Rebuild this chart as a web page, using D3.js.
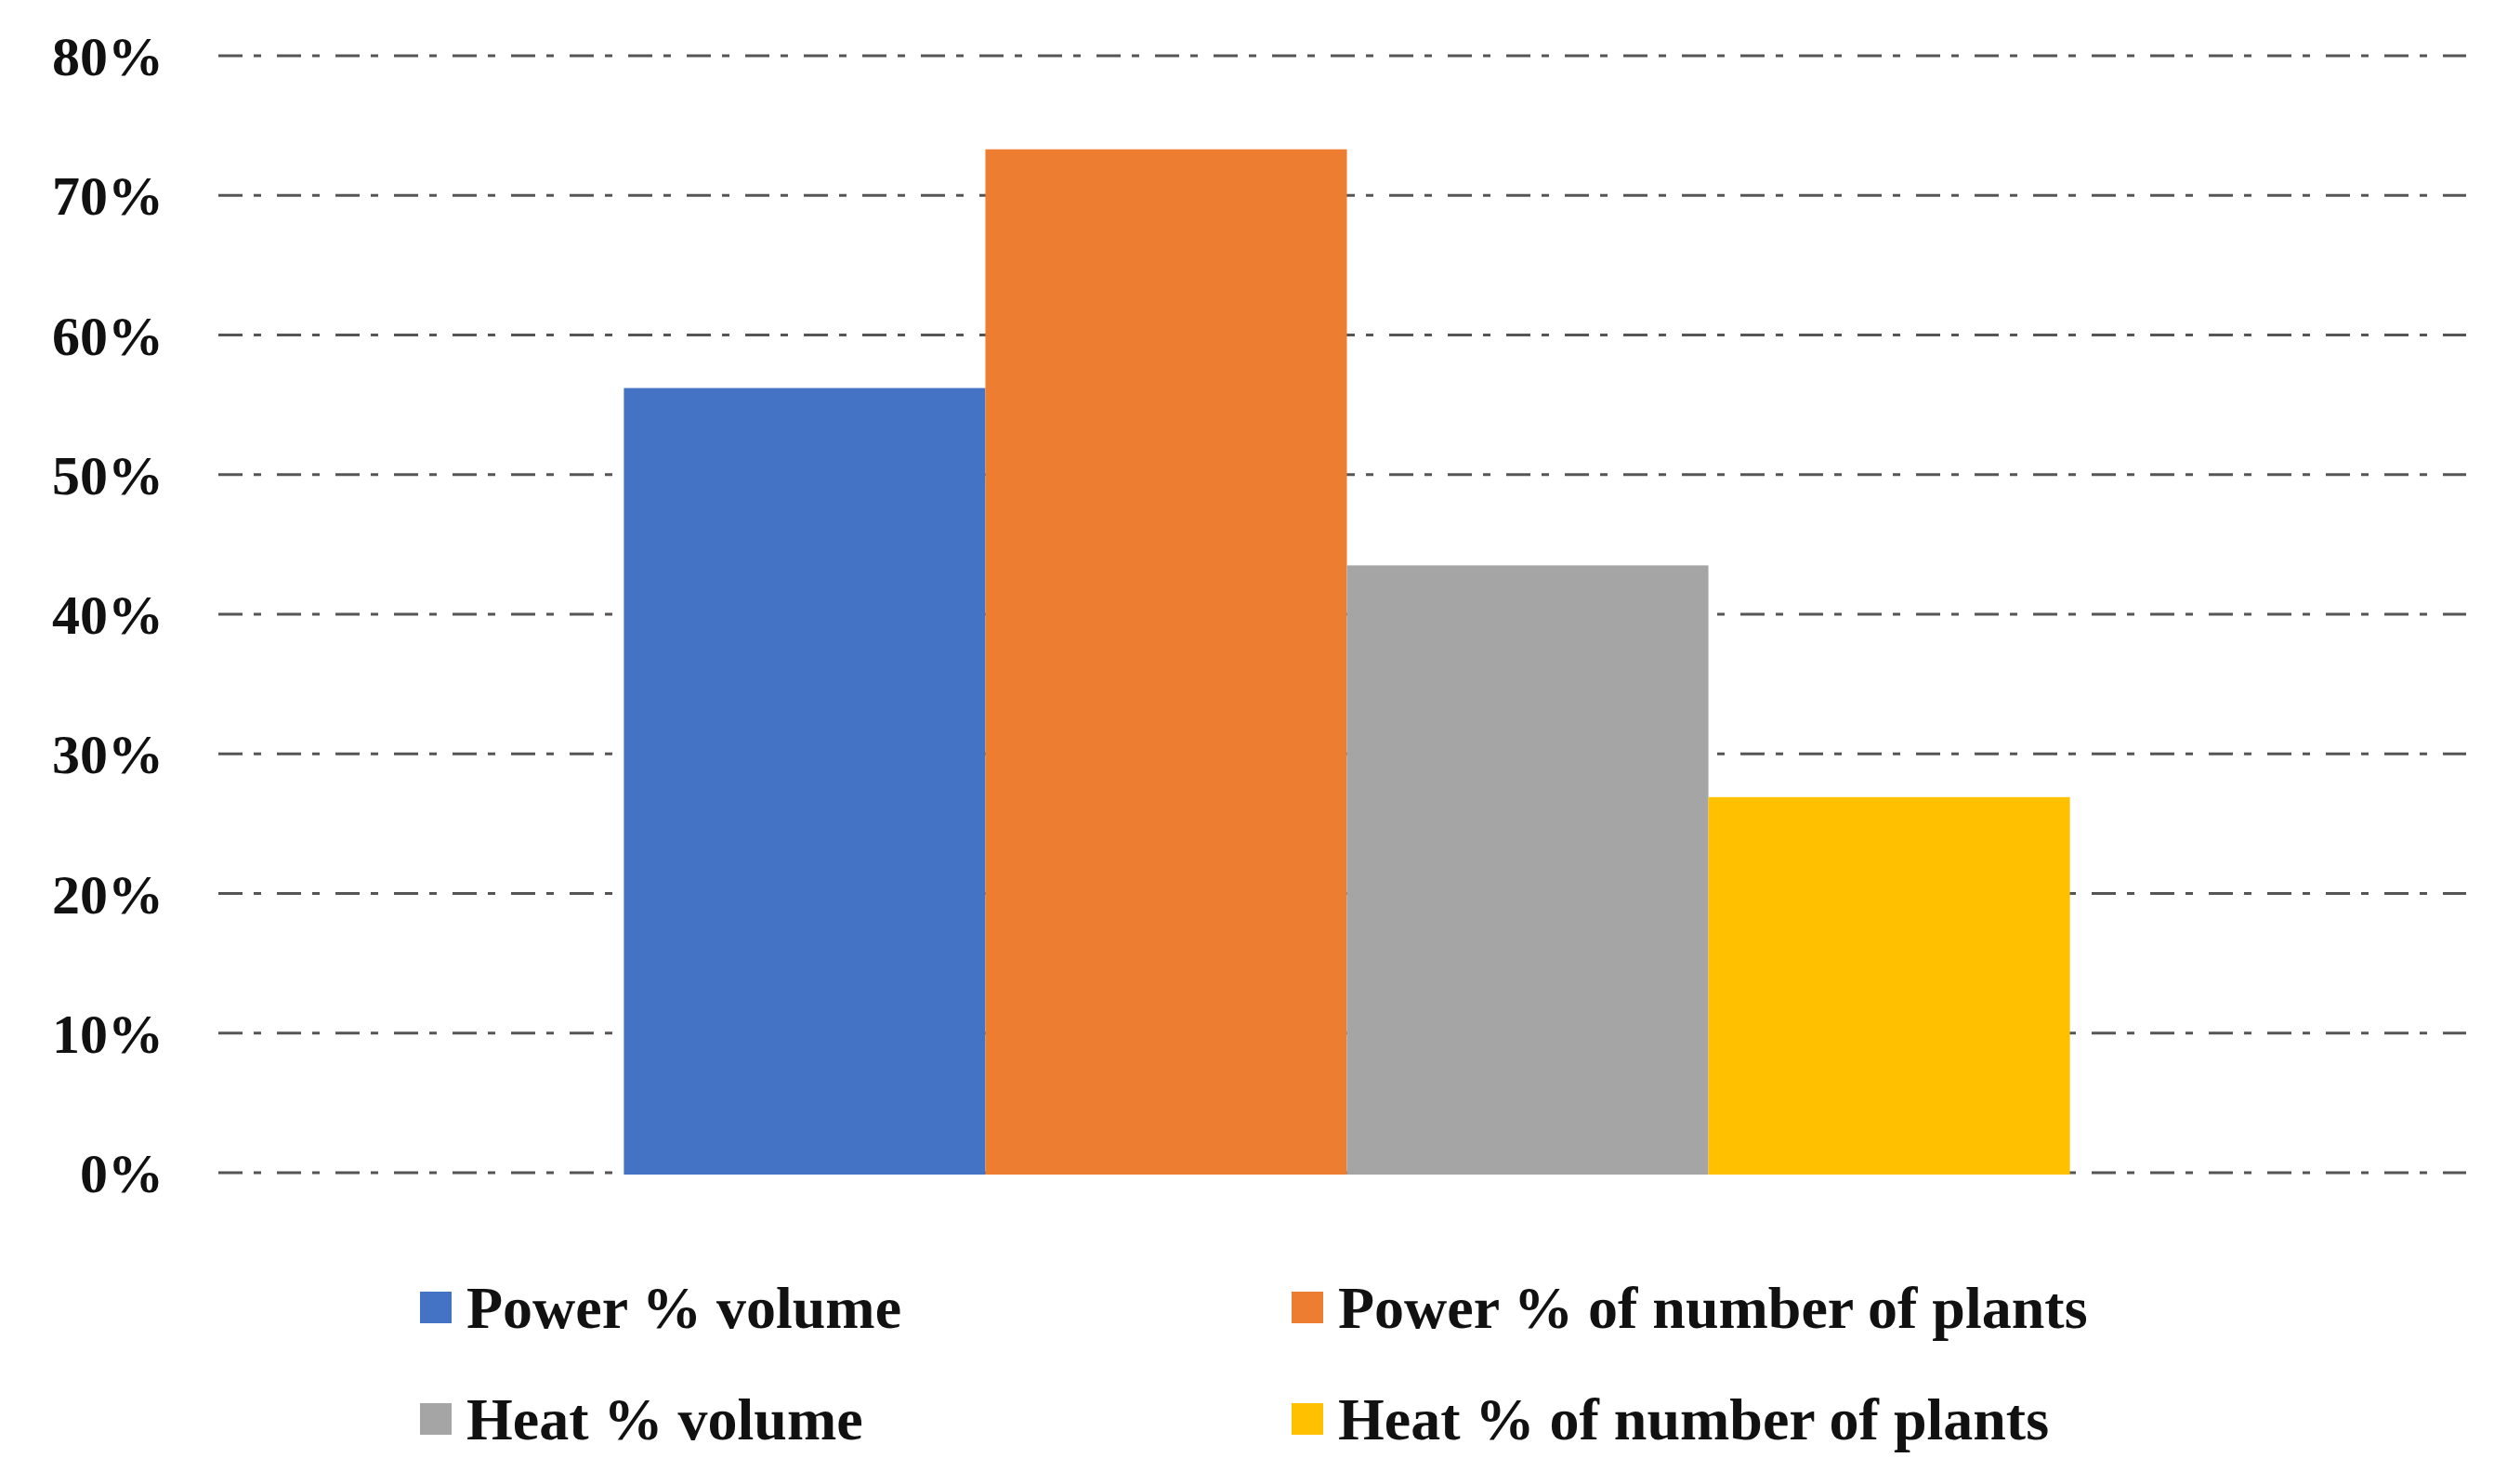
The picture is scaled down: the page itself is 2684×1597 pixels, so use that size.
<!DOCTYPE html>
<html>
<head>
<meta charset="utf-8">
<script src="https://cdn.jsdelivr.net/npm/d3@7"></script>
<style>
  body { margin: 0; background: #fff; }
  text { font-family: "Liberation Serif", "Times New Roman", serif; font-weight: bold; }
</style>
</head>
<body>
<script>
const categories = ['All']
const series = ['Power % volume', 'Power % of number of plants', 'Heat % volume', 'Heat % of number of plants']
const values = [0.562, 0.733, 0.435, 0.269]
const colors = ['#4472C4', '#ED7D31', '#A5A5A5', '#FFC000']
const ticks = [0, 0.1, 0.2, 0.3, 0.4, 0.5, 0.6, 0.7, 0.8]

const width = 2684
const height = 1597
const margin = { top: 60, right: 30, bottom: 335, left: 235 }

const svg = d3.select('body').append('svg')
  .attr('width', width)
  .attr('height', height)

const y = d3.scaleLinear()
  .domain([0, 0.8])
  .range([height - margin.bottom, margin.top])

const x0 = d3.scaleBand()
  .domain(categories)
  .range([margin.left + 10, width - margin.right])
  .paddingOuter(0.274)

const x1 = d3.scaleBand()
  .domain(series)
  .range([0, x0.bandwidth()])

// gridlines
svg.append('g')
  .selectAll('line')
  .data(ticks)
  .join('line')
  .attr('x1', margin.left)
  .attr('x2', width - margin.right)
  .attr('y1', (d) => y(d))
  .attr('y2', (d) => y(d))
  .attr('stroke', '#555')
  .attr('stroke-width', 3)
  .attr('stroke-dasharray', '26,12,8,17')

// tick labels
svg.append('g')
  .selectAll('text')
  .data(ticks)
  .join('text')
  .attr('x', 176)
  .attr('y', (d) => y(d))
  .attr('dy', '0.35em')
  .attr('text-anchor', 'end')
  .attr('font-size', 60)
  .attr('fill', '#111')
  .text(d3.format('.0%'))

// bars
svg.append('g')
  .selectAll('rect')
  .data(values.map((v, i) => ({ key: series[i], value: v, color: colors[i] })))
  .join('rect')
  .attr('x', (d) => x0('All') + x1(d.key))
  .attr('width', x1.bandwidth())
  .attr('y', (d) => y(d.value))
  .attr('height', (d) => y(0) - y(d.value) + 2)
  .attr('fill', (d) => d.color)

// legend
const legendX = [452, 1390]
const legendY = [1407, 1527]
const lg = svg.append('g')
  .selectAll('g')
  .data(series)
  .join('g')
  .attr('transform', (d, i) => `translate(${legendX[i % 2]},${legendY[Math.floor(i / 2)]})`)

lg.append('rect')
  .attr('x', 0)
  .attr('y', -17)
  .attr('width', 34)
  .attr('height', 34)
  .attr('fill', (d, i) => colors[i])

lg.append('text')
  .attr('x', 50)
  .attr('dy', '0.35em')
  .attr('font-size', 64)
  .attr('fill', '#111')
  .text((d) => d)
</script>
</body>
</html>
